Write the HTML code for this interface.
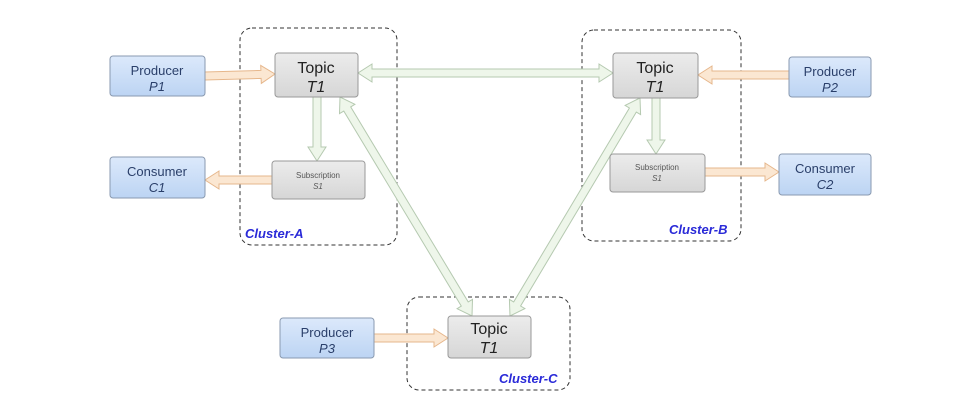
<!DOCTYPE html>
<html><head><meta charset="utf-8"><style>
body{margin:0;background:#fff;width:975px;height:408px;overflow:hidden}
svg{display:block}
</style></head><body>
<svg id="s" width="975" height="408" xmlns="http://www.w3.org/2000/svg" font-family="Liberation Sans, sans-serif">
<defs>
<linearGradient id="gb" x1="0" y1="0" x2="0" y2="1"><stop offset="0" stop-color="#dce9fb"/><stop offset="1" stop-color="#bcd4f3"/></linearGradient>
<linearGradient id="gg" x1="0" y1="0" x2="0" y2="1"><stop offset="0" stop-color="#ececec"/><stop offset="1" stop-color="#d6d6d6"/></linearGradient>
</defs>
<g fill="none" stroke="#333" stroke-width="1" stroke-dasharray="4,3">
<rect x="240" y="28" width="157" height="217" rx="12"/>
<rect x="582" y="30" width="159" height="211" rx="12"/>
<rect x="407" y="297" width="163" height="93" rx="12"/>
</g>
<g id="arrows"></g>
<g stroke="#8a9ab0" stroke-width="1">
<rect x="110" y="56" width="95" height="40" rx="3" fill="url(#gb)"/>
<rect x="110" y="157" width="95" height="41" rx="3" fill="url(#gb)"/>
<rect x="789" y="57" width="82" height="40" rx="3" fill="url(#gb)"/>
<rect x="779" y="154" width="92" height="41" rx="3" fill="url(#gb)"/>
<rect x="280" y="318" width="94" height="40" rx="3" fill="url(#gb)"/>
</g>
<g stroke="#999" stroke-width="1" fill="url(#gg)">
<rect x="275" y="53" width="83" height="44" rx="3"/>
<rect x="272" y="161" width="93" height="38" rx="3"/>
<rect x="613" y="53" width="85" height="45" rx="3"/>
<rect x="610" y="154" width="95" height="38" rx="3"/>
<rect x="448" y="316" width="83" height="42" rx="3"/>
</g>
<g fill="#2a3f6a" font-size="13" text-anchor="middle">
<text x="157" y="75">Producer</text><text x="157" y="91" font-style="italic">P1</text>
<text x="157" y="176">Consumer</text><text x="157" y="192" font-style="italic">C1</text>
<text x="830" y="76">Producer</text><text x="830" y="92" font-style="italic">P2</text>
<text x="825" y="173">Consumer</text><text x="825" y="189" font-style="italic">C2</text>
<text x="327" y="337">Producer</text><text x="327" y="353" font-style="italic">P3</text>
</g>
<g fill="#222" font-size="16" text-anchor="middle">
<text x="316" y="73">Topic</text><text x="316" y="92" font-style="italic">T1</text>
<text x="655" y="73">Topic</text><text x="655" y="92" font-style="italic">T1</text>
<text x="489" y="334">Topic</text><text x="489" y="353" font-style="italic">T1</text>
</g>
<g fill="#555" font-size="8" text-anchor="middle">
<text x="318" y="178">Subscription</text><text x="318" y="189" font-style="italic">S1</text>
<text x="657" y="170">Subscription</text><text x="657" y="181" font-style="italic">S1</text>
</g>
<g fill="#2a2ad8" font-size="13" font-weight="bold" font-style="italic">
<text x="245" y="238">Cluster-A</text>
<text x="669" y="234">Cluster-B</text>
<text x="499" y="383">Cluster-C</text>
</g>
</svg>
<script>
function arr(x1,y1,x2,y2,dbl,fill,stroke){
 var dx=x2-x1,dy=y2-y1,L=Math.hypot(dx,dy),ux=dx/L,uy=dy/L,nx=-uy,ny=ux;
 var w=4,hw=9,hl=14;
 function p(t,o){return (x1+ux*t+nx*o).toFixed(1)+","+(y1+uy*t+ny*o).toFixed(1);}
 var pts=[];
 if(dbl){pts.push(p(0,0),p(hl,hw),p(hl,w));}else{pts.push(p(0,w));}
 pts.push(p(L-hl,w),p(L-hl,hw),p(L,0),p(L-hl,-hw),p(L-hl,-w));
 if(dbl){pts.push(p(hl,-w),p(hl,-hw));}else{pts.push(p(0,-w));}
 return '<polygon points="'+pts.join(" ")+'" fill="'+fill+'" stroke="'+stroke+'" stroke-width="1"/>';
}
var o="#fbe7d2",os="#e6b78c",g="#eef6ea",gs="#b5c9b0",h="";
h+=arr(205,76,275,74,0,o,os);
h+=arr(789,75,698,75,0,o,os);
h+=arr(374,338,448,338,0,o,os);
h+=arr(317,97,317,161,0,g,gs);
h+=arr(272,180,205,180,0,o,os);
h+=arr(656,98,656,154,0,g,gs);
h+=arr(705,172,779,172,0,o,os);
h+=arr(358,73,613,73,1,g,gs);
h+=arr(340,97,472,316,1,g,gs);
h+=arr(640,98,510,316,1,g,gs);
document.getElementById("arrows").innerHTML=h;
</script>
</body></html>
